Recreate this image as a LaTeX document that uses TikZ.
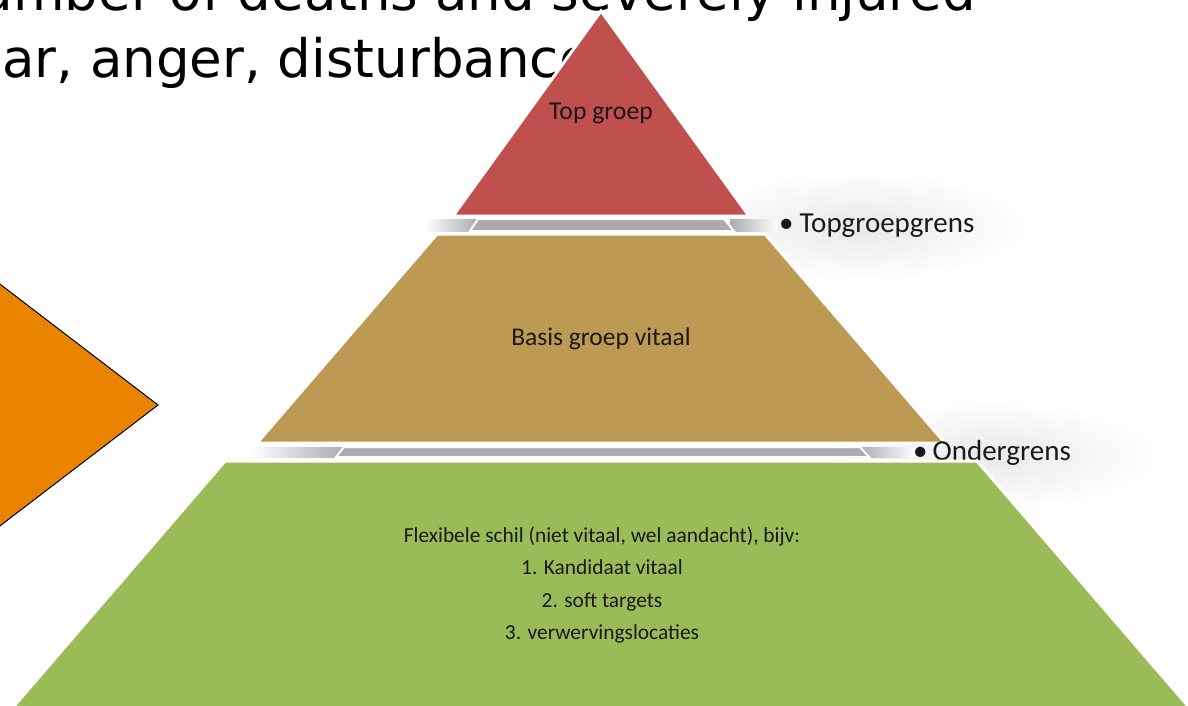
\documentclass[tikz,border=0pt]{standalone}
\usepackage{fontspec}
\setmainfont{Carlito}
\newfontfamily\slidefont{DejaVu Sans}
\usetikzlibrary{fadings}
\tikzfading[name=softglow, inner color=transparent!0, outer color=transparent!100]
\definecolor{topred}{HTML}{C0504D}
\definecolor{basisbrown}{HTML}{BD9A53}
\definecolor{schilgreen}{HTML}{9BBB59}
\definecolor{bandgray}{HTML}{ABABAB}
\definecolor{kiteorange}{HTML}{E98300}

\begin{document}
\begin{tikzpicture}[x=1pt, y=-1pt,
  layer/.style={fill=#1, draw=white, line width=3pt},
  band/.style={fill=bandgray, draw=white, line width=2pt},
  glow/.style={fill=black, opacity=0.09, path fading=softglow},
  lbl/.style={inner sep=0pt, text=black!90, font=\fontsize{#1}{#1}\selectfont},
  bigtext/.style={inner sep=0pt, anchor=base west, font=\slidefont\fontsize{53}{60}\selectfont}
]
  \useasboundingbox (0,0) rectangle (1188,706);
  \clip (0,0) rectangle (1188,706);
  \fill[white] (0,0) rectangle (1188,706);

  % slide behind the pyramid
  \path[fill=kiteorange, draw=black, line width=1pt] (-110,200) -- (158,405) -- (-110,610) -- cycle;
  \node[bigtext, anchor=base east] (regel1) at (976,11) {Number of deaths and severely injured};
  \node[bigtext] (regel2) at (2,78) {\llap{Fe}ar, anger, disturbance};

  % soft shadow right of the pyramid
  \fill[glow] (860,226) ellipse [x radius=170, y radius=55];
  \fill[glow] (990,456) ellipse [x radius=170, y radius=55];

  % grey bevels between the layers
  \shade[left color=white, right color=bandgray] (425,219) rectangle (478,231);
  \shade[left color=bandgray, right color=white] (730,219) rectangle (778,231);
  \path[band] (478,219) -- (724,219) -- (734,231) -- (470,231) -- cycle;
  \shade[left color=white, right color=bandgray] (250,447) rectangle (343,457);
  \shade[left color=bandgray, right color=white] (860,447) rectangle (915,457);
  \path[band] (344,447) -- (860,447) -- (869,457) -- (336,457) -- cycle;

  % pyramid
  \path[layer=topred] (601,11) -- (749,216) -- (453,216) -- cycle;
  \path[layer=basisbrown] (437,234) -- (765,234) -- (945,443) -- (257,443) -- cycle;

  \node[lbl=29, anchor=base west] (topgrens) at (779,232) {•\hspace{6pt}Topgroepgrens};
  \node[lbl=29, anchor=base west] (ondergrens) at (913,460) {•\hspace{5pt}Ondergrens};

  \path[layer=schilgreen] (225,461) -- (977,461) -- (1200,720) -- (2,720) -- cycle;

  \node[lbl=25.7] (toplbl) at (601,113) {Top groep};
  \node[lbl=25.5] (basislbl) at (601,339) {Basis groep vitaal};
  \node[lbl=21.4, align=center, font=\fontsize{21.4}{32.5}\selectfont] (schillbl) at (602,585)
    {Flexibele schil (niet vitaal, wel aandacht), bijv:\\1. Kandidaat vitaal\\2. soft targets\\3. verwervingslocaties};
\end{tikzpicture}
\end{document}
